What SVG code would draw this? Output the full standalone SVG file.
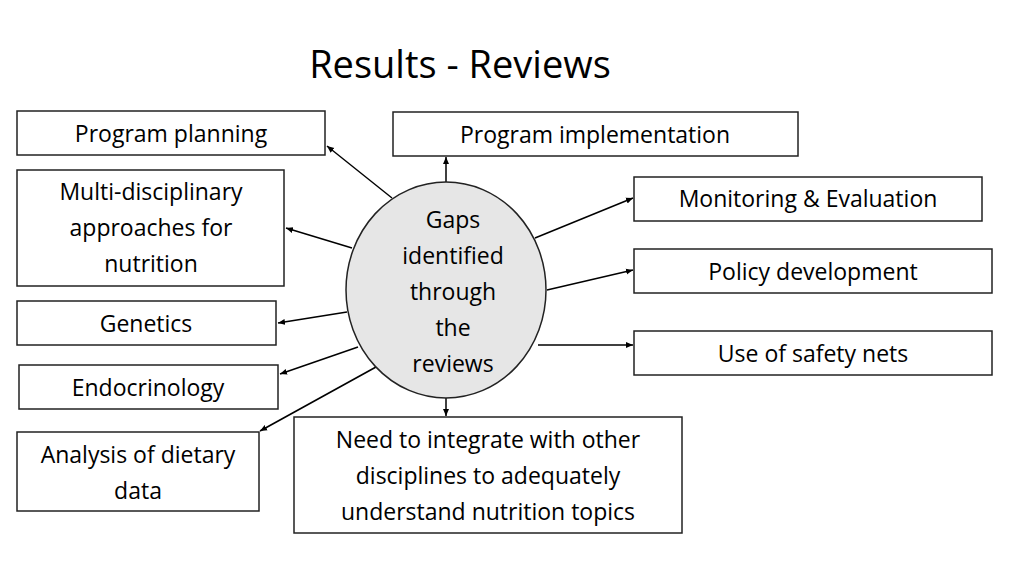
<svg xmlns="http://www.w3.org/2000/svg" width="1024" height="576" viewBox="0 0 1024 576">
<style>
.b{fill:#fff;stroke:#222;stroke-width:1.5}
text{font-family:"Open Sans","Liberation Sans",sans-serif;font-size:23px;fill:#000;text-anchor:middle}
.c line{stroke:#000;stroke-width:1.5;marker-end:url(#a)}
</style>
<defs><marker id="a" markerWidth="8" markerHeight="8" refX="7" refY="4" orient="auto" markerUnits="userSpaceOnUse"><path d="M0,1 L7,4 L0,7z" fill="#000"/></marker></defs>
<rect width="1024" height="576" fill="#fff"/>
<text x="460" y="78" style="font-size:38px">Results - Reviews</text>
<g class="c">
<line x1="392" y1="198" x2="327" y2="146"/>
<line x1="446" y1="182" x2="446" y2="157"/>
<line x1="352" y1="248" x2="286" y2="228"/>
<line x1="535" y1="238" x2="633" y2="198"/>
<line x1="547" y1="290" x2="633" y2="270"/>
<line x1="347" y1="312" x2="278" y2="323"/>
<line x1="538" y1="345" x2="633" y2="345"/>
<line x1="358" y1="347" x2="280" y2="374"/>
<line x1="376" y1="367" x2="260" y2="431"/>
<line x1="446" y1="398" x2="446" y2="416"/>
</g>
<g id="center"><ellipse cx="446" cy="290" rx="100" ry="108" fill="#e6e6e6" stroke="#222" stroke-width="1.5"/>
<text x="453" y="228">Gaps</text><text x="453" y="264">identified</text><text x="453" y="300">through</text><text x="453" y="336">the</text><text x="453" y="372">reviews</text></g>
<g id="n1"><rect class="b" x="17" y="111" width="308" height="44"/><text x="171" y="142">Program planning</text></g>
<g id="n2"><rect class="b" x="393" y="112" width="405" height="44"/><text x="595" y="143">Program implementation</text></g>
<g id="n3"><rect class="b" x="17" y="170" width="267" height="116"/><text x="151" y="200">Multi-disciplinary</text><text x="151" y="236">approaches for</text><text x="151" y="272">nutrition</text></g>
<g id="n4"><rect class="b" x="634" y="177" width="348" height="44"/><text x="808" y="207">Monitoring &amp; Evaluation</text></g>
<g id="n5"><rect class="b" x="634" y="249" width="358" height="44"/><text x="813" y="280">Policy development</text></g>
<g id="n6"><rect class="b" x="17" y="301" width="259" height="44"/><text x="146" y="332">Genetics</text></g>
<g id="n7"><rect class="b" x="634" y="331" width="358" height="44"/><text x="813" y="362">Use of safety nets</text></g>
<g id="n8"><rect class="b" x="19" y="365" width="259" height="44"/><text x="148" y="396">Endocrinology</text></g>
<g id="n9"><rect class="b" x="17" y="432" width="242" height="79"/><text x="138" y="463">Analysis of dietary</text><text x="138" y="499">data</text></g>
<g id="n10"><rect class="b" x="294" y="417" width="388" height="116"/><text x="488" y="448">Need to integrate with other</text><text x="488" y="484">disciplines to adequately</text><text x="488" y="520">understand nutrition topics</text></g>
</svg>
